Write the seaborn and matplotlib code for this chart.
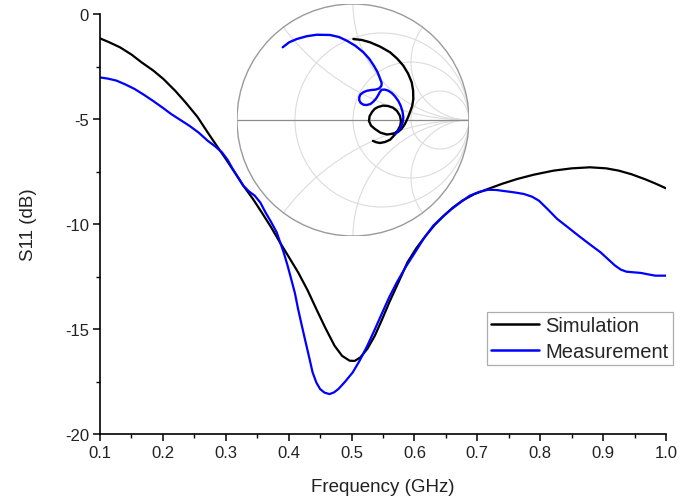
import numpy as np
import pandas as pd
import matplotlib
matplotlib.use("Agg")
import matplotlib.pyplot as plt
from matplotlib.patches import Circle
from matplotlib.ticker import MultipleLocator
import seaborn as sns

# ---- S11 magnitude vs frequency ----
sim_freq = [0.100, 0.115, 0.132, 0.150, 0.166, 0.185, 0.201, 0.220, 0.236, 0.255,
            0.271, 0.285, 0.300, 0.315, 0.328, 0.343, 0.357, 0.372, 0.386, 0.400,
            0.415, 0.430, 0.444, 0.458, 0.473, 0.485, 0.497, 0.505, 0.514, 0.525,
            0.537, 0.548, 0.560, 0.575, 0.589, 0.603, 0.618, 0.632, 0.647, 0.661,
            0.676, 0.695, 0.717, 0.740, 0.763, 0.790, 0.821, 0.850, 0.879, 0.905,
            0.925, 0.945, 0.966, 0.983, 1.000]
sim_s11 = [-1.16, -1.35, -1.59, -1.93, -2.30, -2.70, -3.10, -3.67, -4.21, -4.90,
           -5.63, -6.25, -6.90, -7.58, -8.18, -8.80, -9.44, -10.15, -10.87, -11.56,
           -12.30, -13.15, -14.05, -14.93, -15.80, -16.28, -16.51, -16.52, -16.35, -15.95,
           -15.32, -14.58, -13.73, -12.75, -11.82, -11.15, -10.56, -10.05, -9.60, -9.22,
           -8.89, -8.58, -8.33, -8.08, -7.86, -7.65, -7.46, -7.35, -7.30, -7.35,
           -7.46, -7.63, -7.86, -8.07, -8.30]

meas_freq = [0.100, 0.113, 0.126, 0.140, 0.155, 0.170, 0.184, 0.200, 0.213, 0.228,
             0.242, 0.257, 0.271, 0.283, 0.294, 0.303, 0.311, 0.320, 0.328, 0.337,
             0.346, 0.355, 0.363, 0.372, 0.381, 0.392, 0.398, 0.404, 0.410, 0.415,
             0.421, 0.427, 0.433, 0.438, 0.444, 0.450, 0.457, 0.465, 0.472, 0.479,
             0.490, 0.502, 0.513, 0.525, 0.537, 0.549, 0.560, 0.572, 0.586, 0.601,
             0.615, 0.630, 0.645, 0.659, 0.674, 0.688, 0.703, 0.717, 0.730, 0.745,
             0.760, 0.774, 0.787, 0.798, 0.812, 0.827, 0.845, 0.861, 0.878, 0.896,
             0.908, 0.919, 0.928, 0.937, 0.948, 0.960, 0.972, 0.983, 1.000]
meas_s11 = [-3.02, -3.08, -3.17, -3.35, -3.57, -3.85, -4.13, -4.47, -4.76, -5.05,
            -5.32, -5.65, -6.03, -6.30, -6.59, -6.95, -7.38, -7.80, -8.18, -8.45,
            -8.65, -8.98, -9.44, -9.90, -10.40, -11.35, -11.95, -12.62, -13.30, -14.05,
            -14.85, -15.63, -16.40, -17.06, -17.55, -17.86, -18.03, -18.10, -18.02, -17.86,
            -17.50, -17.06, -16.50, -15.80, -15.02, -14.21, -13.48, -12.78, -12.05, -11.35,
            -10.68, -10.08, -9.65, -9.29, -8.95, -8.65, -8.47, -8.37, -8.38, -8.44,
            -8.50, -8.57, -8.70, -8.89, -9.30, -9.76, -10.18, -10.56, -10.95, -11.35,
            -11.68, -11.98, -12.17, -12.27, -12.30, -12.33, -12.40, -12.46, -12.46]

# ---- reflection coefficient traces (Smith chart inset) ----
sim_gamma_re = [0.003, 0.075, 0.147, 0.235, 0.319, 0.380, 0.434, 0.475, 0.506, 0.518,
                0.520, 0.510, 0.491, 0.472, 0.448, 0.420, 0.388, 0.342, 0.293, 0.238,
                0.190, 0.155, 0.138, 0.143, 0.164, 0.187, 0.216, 0.258, 0.302, 0.345,
                0.379, 0.405, 0.414, 0.407, 0.388, 0.362, 0.320, 0.275, 0.233, 0.200, 0.172]
sim_gamma_im = [0.698, 0.690, 0.670, 0.632, 0.584, 0.530, 0.468, 0.400, 0.325, 0.255,
                0.181, 0.120, 0.066, 0.018, -0.034, -0.075, -0.103, -0.118, -0.125, -0.110,
                -0.078, -0.048, -0.009, 0.033, 0.069, 0.096, 0.112, 0.124, 0.121, 0.106,
                0.078, 0.036, -0.009, -0.050, -0.086, -0.125, -0.170, -0.190, -0.198, -0.192, -0.180]

meas_gamma_re = [-0.606, -0.550, -0.485, -0.400, -0.313, -0.198, -0.120, -0.054, 0.020, 0.089,
                 0.140, 0.181, 0.210, 0.228, 0.247, 0.245, 0.227, 0.195, 0.161, 0.120,
                 0.089, 0.064, 0.054, 0.054, 0.066, 0.090, 0.118, 0.150, 0.175, 0.200,
                 0.218, 0.232, 0.247, 0.275, 0.304, 0.335, 0.362, 0.390, 0.411, 0.427,
                 0.434, 0.428, 0.411, 0.390, 0.362]
meas_gamma_im = [0.627, 0.670, 0.698, 0.722, 0.735, 0.733, 0.715, 0.684, 0.640, 0.584,
                 0.528, 0.466, 0.415, 0.371, 0.319, 0.295, 0.273, 0.262, 0.259, 0.252,
                 0.239, 0.220, 0.196, 0.170, 0.147, 0.132, 0.129, 0.138, 0.158, 0.186,
                 0.216, 0.242, 0.261, 0.262, 0.253, 0.232, 0.204, 0.165, 0.123, 0.072,
                 0.023, -0.022, -0.063, -0.095, -0.121]

# Smith chart grid values
r_grid = [1 / 3, 1.0, 3.0]
x_grid = [0.5, 1.0, 2.0]

x_ticks = [0.1, 0.2, 0.3, 0.4, 0.5, 0.6, 0.7, 0.8, 0.9, 1.0]
x_tick_labels = ["0.1", "0.2", "0.3", "0.4", "0.5", "0.6", "0.7", "0.8", "0.9", "1.0"]
y_ticks = [-20, -15, -10, -5, 0]
y_tick_labels = ["-20", "-15", "-10", "-5", "0"]

sns.set_style("ticks")
plt.rcParams["font.family"] = ["Liberation Sans", "DejaVu Sans"]
plt.rcParams["axes.unicode_minus"] = False

fig = plt.figure(figsize=(6.81, 5.02), dpi=100)
ax = fig.add_axes([100 / 681, 1 - 435 / 502, 566 / 681, 420 / 502])

df = pd.concat([
    pd.DataFrame({"Frequency": sim_freq, "S11": sim_s11, "Series": "Simulation"}),
    pd.DataFrame({"Frequency": meas_freq, "S11": meas_s11, "Series": "Measurement"}),
], ignore_index=True)

sns.lineplot(data=df, x="Frequency", y="S11", hue="Series",
             palette={"Simulation": "#000000", "Measurement": "#0000ff"},
             linewidth=1.6, ax=ax, sort=False, estimator=None)
for ln in ax.get_lines():
    ln.set_solid_joinstyle("round")

ax.set_xlim(0.1, 1.0)
ax.set_ylim(-20, 0)
ax.set_xticks(x_ticks)
ax.set_xticklabels(x_tick_labels)
ax.set_yticks(y_ticks)
ax.set_yticklabels(y_tick_labels)
ax.xaxis.set_minor_locator(MultipleLocator(0.05))
ax.yaxis.set_minor_locator(MultipleLocator(2.5))
ax.tick_params(which="major", direction="out", length=5, width=1.1, labelsize=12,
               color="black", labelcolor="#222222", pad=3)
ax.tick_params(which="minor", direction="out", length=3, width=1.0, color="black")
for side in ("top", "right"):
    ax.spines[side].set_visible(False)
for side in ("left", "bottom"):
    ax.spines[side].set_linewidth(1.2)
    ax.spines[side].set_color("black")
ax.set_xlabel("Frequency (GHz)", fontsize=13.5, color="#222222", labelpad=13)
ax.set_ylabel("S11 (dB)", fontsize=13.5, color="#222222", labelpad=20)

leg = ax.legend(loc="upper left", bbox_to_anchor=(487 / 681, 1 - 313 / 502),
                bbox_transform=fig.transFigure, fontsize=14.5, frameon=True,
                fancybox=False, handlelength=2.4, handletextpad=0.3,
                borderpad=0.2, labelspacing=0.35, borderaxespad=0.0)
leg.get_frame().set_edgecolor("#999999")
leg.get_frame().set_linewidth(0.9)
for line in leg.get_lines():
    line.set_linewidth(1.8)

# ---- Smith chart inset ----
cx, cy, rad = 353, 121, 116
sax = fig.add_axes([(cx - rad) / 681, 1 - (cy + rad) / 502, 2 * rad / 681, 2 * rad / 502])
sax.axis("off")
sax.patch.set_alpha(0)

sax.add_patch(Circle((0, 0), 1.0, facecolor="white", edgecolor="none", zorder=0))
clip = Circle((0, 0), 1.0, transform=sax.transData, facecolor="none", edgecolor="none")
sax.add_patch(clip)

grid_color = "#dcdcdc"
for r in r_grid:
    c = Circle((r / (1 + r), 0), 1 / (1 + r), facecolor="none",
               edgecolor=grid_color, linewidth=0.8, zorder=1)
    sax.add_patch(c)
    c.set_clip_path(clip)
for xv in x_grid:
    for sgn in (1, -1):
        c = Circle((1, sgn / xv), 1 / xv, facecolor="none",
                   edgecolor=grid_color, linewidth=0.8, zorder=1)
        sax.add_patch(c)
        c.set_clip_path(clip)

sax.plot([-1, 1], [0, 0], color="#8c8c8c", linewidth=0.9, zorder=2)
sax.add_patch(Circle((0, 0), 1.0, facecolor="none", edgecolor="#9a9a9a",
                     linewidth=1.0, zorder=3))

sns.lineplot(x=sim_gamma_re, y=sim_gamma_im, sort=False, estimator=None,
             color="#000000", linewidth=1.7, ax=sax, zorder=4)
sns.lineplot(x=meas_gamma_re, y=meas_gamma_im, sort=False, estimator=None,
             color="#0000ff", linewidth=1.7, ax=sax, zorder=5)
for ln in sax.get_lines():
    ln.set_solid_joinstyle("round")
    ln.set_solid_capstyle("round")
sax.set_xlim(-1.0, 1.0)
sax.set_ylim(-1.0, 1.0)

fig.savefig("out.png", dpi=100)
